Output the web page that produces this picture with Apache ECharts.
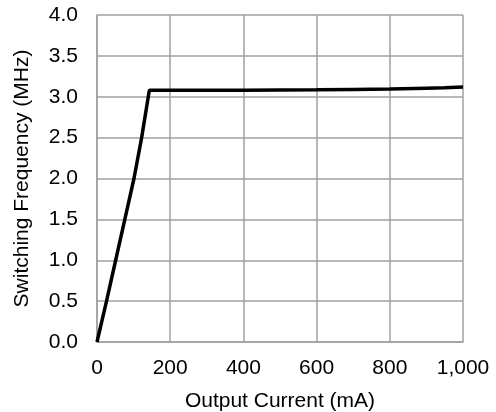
<!DOCTYPE html>
<html>
<head>
<meta charset="utf-8">
<script src="https://cdn.jsdelivr.net/npm/echarts@6/dist/echarts.min.js"></script>
<style>
  html, body { margin: 0; padding: 0; background: #fff; }
  #chart { width: 496px; height: 412px; }
</style>
</head>
<body>
<div id="chart"></div>
<script>
// 输出电流 (mA) 与开关频率 (MHz)
var currentMA = [0, 26, 51, 76, 101, 122, 143, 200, 400, 600, 700, 800, 900, 950, 1000];
var freqMHz = [0, 0.5, 1.0, 1.5, 2.0, 2.5, 3.08, 3.08, 3.08, 3.085, 3.09, 3.095, 3.105, 3.11, 3.12];
var xTicks = [0, 200, 400, 600, 800, 1000];
var yTicks = [0, 0.5, 1, 1.5, 2, 2.5, 3, 3.5, 4];

var gridColor = '#a0a0a0';
var textColor = '#000';
var fontFamily = 'Liberation Sans, Arial, sans-serif';
var fontSize = 21;

var chart = echarts.init(document.getElementById('chart'));
var option = {
  animation: false,
  grid: { left: 97, right: 33, top: 15, bottom: 70, containLabel: false, outerBoundsMode: 'none' },
  xAxis: {
    type: 'value',
    min: xTicks[0],
    max: xTicks[xTicks.length - 1],
    interval: 200,
    name: 'Output Current (mA)',
    nameLocation: 'middle',
    nameGap: 49,
    nameTextStyle: { color: textColor, fontSize: fontSize, fontFamily: fontFamily },
    axisLine: { show: true, lineStyle: { color: gridColor, width: 1.5 } },
    axisTick: { show: false },
    axisLabel: {
      color: textColor,
      fontSize: fontSize,
      fontFamily: fontFamily,
      margin: 16,
      formatter: function (v) { return v.toLocaleString('en-US'); }
    },
    splitLine: { show: true, lineStyle: { color: gridColor, width: 1.5 } }
  },
  yAxis: {
    type: 'value',
    min: yTicks[0],
    max: yTicks[yTicks.length - 1],
    interval: 0.5,
    name: 'Switching Frequency (MHz)',
    nameLocation: 'middle',
    nameGap: 64,
    nameTextStyle: { color: textColor, fontSize: fontSize, fontFamily: fontFamily },
    axisLine: { show: true, lineStyle: { color: gridColor, width: 1.5 } },
    axisTick: { show: false },
    axisLabel: {
      color: textColor,
      fontSize: fontSize,
      fontFamily: fontFamily,
      margin: 19,
      formatter: function (v) { return v.toFixed(1); }
    },
    splitLine: { show: true, lineStyle: { color: gridColor, width: 1.5 } }
  },
  series: [{
    type: 'line',
    data: currentMA.map(function (x, i) { return [x, freqMHz[i]]; }),
    symbol: 'none',
    smooth: false,
    lineStyle: { color: '#000', width: 3.5 }
  }]
};
chart.setOption(option);
</script>
</body>
</html>
